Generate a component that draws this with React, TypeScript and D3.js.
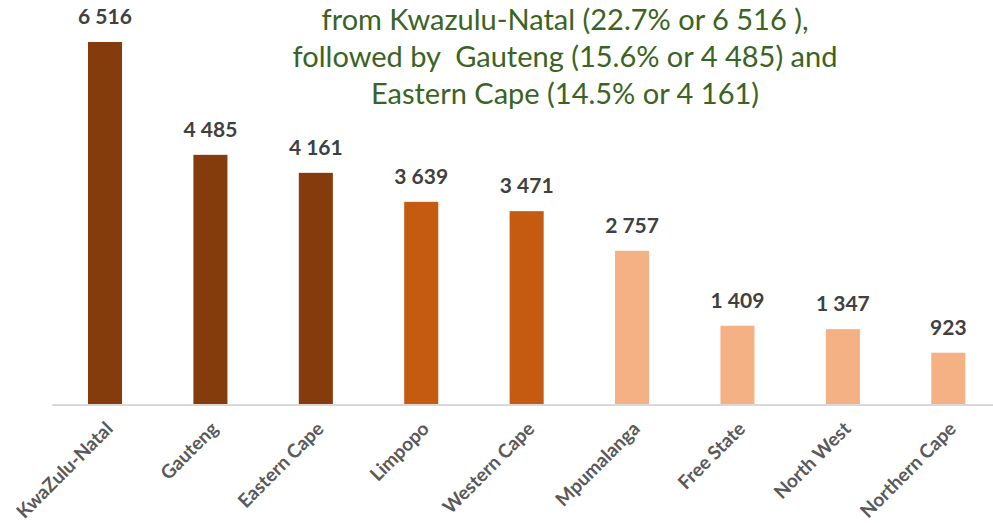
import { useEffect, useRef } from 'react';
import * as d3 from 'd3';

// provinces and counts
const provinces = ['KwaZulu-Natal', 'Gauteng', 'Eastern Cape', 'Limpopo', 'Western Cape', 'Mpumalanga', 'Free State', 'North West', 'Northern Cape'];
const counts = [6516, 4485, 4161, 3639, 3471, 2757, 1409, 1347, 923];
// colour tier per bar: 0 = top three, 1 = middle, 2 = rest
const tiers = [0, 0, 0, 1, 1, 2, 2, 2, 2];
const tierColors = ['#843c0c', '#c55a11', '#f4b183'];
const titleLines = [
  'from Kwazulu-Natal (22.7% or 6 516 ),',
  'followed by  Gauteng (15.6% or 4 485) and',
  'Eastern Cape (14.5% or 4 161)',
];

const fmt = (v: number) => d3.format(',')(v).replace(/,/g, ' ');

const App = () => {
  const ref = useRef<SVGSVGElement>(null);

  useEffect(() => {
    if (!ref.current) return;
    const svg = d3.select(ref.current);
    svg.selectAll('*').remove();

    const width = 993;
    const height = 523;
    const baseY = 404;

    const x = d3.scaleBand<string>()
      .domain(provinces)
      .range([52.3, 1001])
      .paddingInner(0.677)
      .paddingOuter(0.677 / 2);

    const y = d3.scaleLinear()
      .domain([0, 6516])
      .range([baseY, 42]);

    const data = provinces.map((p, i) => ({ p, v: counts[i], t: tiers[i] }));

    svg.append('rect').attr('width', width).attr('height', height).attr('fill', 'white');

    // bars
    svg.append('g').selectAll('rect').data(data).join('rect')
      .attr('x', d => x(d.p)!)
      .attr('y', d => y(d.v))
      .attr('width', x.bandwidth())
      .attr('height', d => baseY - y(d.v))
      .attr('fill', d => tierColors[d.t]);

    // baseline
    svg.append('line')
      .attr('x1', x.range()[0]).attr('x2', width)
      .attr('y1', baseY + 1).attr('y2', baseY + 1)
      .attr('stroke', '#d9d9d9').attr('stroke-width', 2);

    // value labels
    svg.append('g').selectAll('text').data(data).join('text')
      .attr('x', d => x(d.p)! + x.bandwidth() / 2)
      .attr('y', d => y(d.v) - 18)
      .attr('text-anchor', 'middle')
      .attr('font-family', 'Lato, sans-serif')
      .attr('font-weight', 'bold')
      .attr('font-size', 21)
      .attr('fill', '#404040')
      .text(d => fmt(d.v));

    // category labels, rotated
    svg.append('g').selectAll('text').data(data).join('text')
      .attr('transform', d => `translate(${x(d.p)! + x.bandwidth() / 2 + 9},${baseY + 26}) rotate(-45)`)
      .attr('text-anchor', 'end')
      .attr('font-family', 'Lato, sans-serif')
      .attr('font-weight', 'bold')
      .attr('font-size', 19)
      .attr('fill', '#595959')
      .text(d => d.p);

    // title text
    svg.append('g').selectAll('text').data(titleLines).join('text')
      .attr('x', 565)
      .attr('y', (_, i) => 30 + i * 37)
      .attr('text-anchor', 'middle')
      .attr('font-family', 'Lato, sans-serif')
      .attr('font-size', 29)
      .attr('fill', '#3b6324')
      .style('white-space', 'pre')
      .text(d => d);
  }, []);

  return (
    <svg ref={ref} width={993} height={523} style={{ position: 'absolute', left: 0, top: 0 }} />
  );
};

export default App;
